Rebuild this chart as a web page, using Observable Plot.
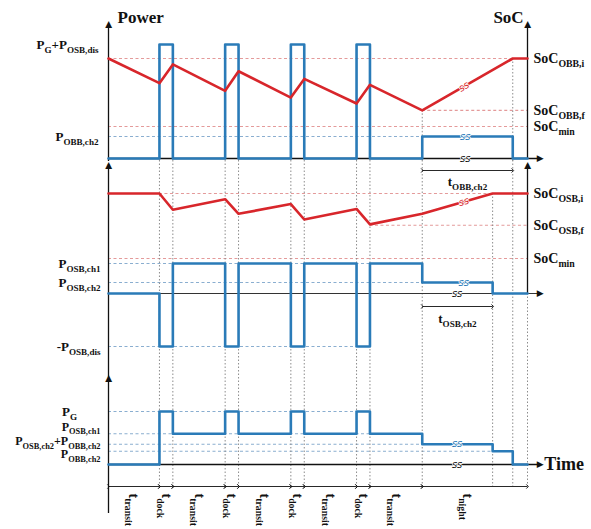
<!DOCTYPE html>
<html><head><meta charset="utf-8">
<script src="https://cdn.jsdelivr.net/npm/d3@7"></script>
<script src="https://cdn.jsdelivr.net/npm/@observablehq/plot@0.6"></script>
<style>
body{margin:0;background:#fff}
#chart{width:591px;height:529px;position:relative;overflow:hidden}
#chart svg{display:block}
</style>
</head><body><div id="chart"></div>
<script>
// ---------------- data ----------------
const phaseNames = ["transit","dock","transit","dock","transit","dock","transit","dock","transit","night"];
const phaseDurations = [3.8, 1.0, 3.9, 1.0, 3.9, 1.0, 3.9, 1.0, 3.9, 6.75];
const osbNightChargeDuration = 5.25;   // t_OSB,ch2
const tailDuration = 1.1;

// power levels (schematic units) for each panel
const obbPowerSteps  = [0, 11.4, 0, 11.4, 0, 11.4, 0, 11.4, 0, 2.2, 0];            // P_OBB
const osbPowerSteps  = [0, -5.3, 3.0, -5.3, 3.0, -5.3, 3.0, -5.3, 3.0, 1.1, 0];   // P_OSB
const gridPowerSteps = [0, 5.3, 3.07, 5.3, 3.07, 5.3, 3.07, 5.3, 3.07, 2.03, 1.33, 0]; // grid

const obbLabels  = [["P_{G}+P_{OSB,dis}", 11.4], ["P_{OBB,ch2}", 2.2]];
const osbLabels  = [["P_{OSB,ch1}", 3.0], ["P_{OSB,ch2}", 1.1], ["-P_{OSB,dis}", -5.3]];
const gridLabelNames  = ["P_{G}", "P_{OSB,ch1}", "P_{OSB,ch2}+P_{OBB,ch2}", "P_{OBB,ch2}"];
const gridLabelValues = [5.3, 3.07, 2.03, 1.33];

// SoC (%) levels and traces at event times
const socMin = 20;
const obbSocLevels = [["SoC_{OBB,i}", 100], ["SoC_{OBB,f}", 39], ["SoC_{min}", 20]];
const osbSocLevels = [["SoC_{OSB,i}", 100], ["SoC_{OSB,f}", 61], ["SoC_{min}", 20]];
const obbSoC = [100, 71, 93, 62, 85, 54, 76, 47, 69, 39, 100, 100];
const osbSoC = [100, 100, 80, 93, 75, 87, 68, 81, 62, 75, 100, 100];

// ---------------- derived timing ----------------
const phaseStarts = [];
{ let t = 0; for (const d of phaseDurations) { phaseStarts.push(+t.toFixed(3)); t += d; } }
const nightStart = phaseStarts[9];
const tOBBend = nightStart + phaseDurations[9];
const tOSBend = nightStart + osbNightChargeDuration;
const tEnd = tOBBend + tailDuration;
const dockEdges = phaseStarts.slice(1, 9);

const obbTimes  = [...phaseStarts, tOBBend, tEnd];
const osbTimes  = [...phaseStarts, tOSBend, tEnd];
const gridTimes = [...phaseStarts, tOSBend, tOBBend, tEnd];

const steps = (times, vals) => times.map((t, i) => ({t, v: vals[Math.min(i, vals.length - 1)]}));
const trace = (times, vals) => times.map((t, i) => ({t, v: vals[i]}));

// ---------------- styles ----------------
const BLUE = "#2a7bb8", RED = "#d8262b", RED_D = "#e49a9a", BLUE_D = "#8aaed0", DOT = "#8c8c8c", INK = "#111";
const FONT = "Liberation Serif";
const xEndAxis = tEnd + 0.95;

const socY1 = s => 3.2 + (s - socMin) * 0.085;     // SoC axis of panel 1 onto its power axis
const socY2 = s => 3.5 + (s - socMin) * 0.08125;   // SoC axis of panel 2 onto its power axis

const dashH = (y, x1, x2, color) => Plot.ruleY([y], {x1, x2, stroke: color, strokeWidth: 1.1, strokeDasharray: "3,2.5"});
const dotV = (xs, y1, y2) => Plot.ruleX(xs, {y1, y2, stroke: DOT, strokeWidth: 1, strokeDasharray: "1.5,2"});
const head = (x, y, rotate) => Plot.text([0], {x: () => x, y: () => y, text: () => "\u25B6", rotate, fontSize: 9, fill: INK, fontFamily: "DejaVu Sans"});
const lab = (data, opts) => Plot.text(data, {fontFamily: FONT, fontWeight: "bold", fill: INK, ...opts});
const ss = (x, y, color, rotate = 0) => Plot.text([0], {x: () => x, y: () => y, text: () => "ss", rotate, fontSize: 10, fontStyle: "italic", fontFamily: "DejaVu Sans", fill: color, stroke: "white", strokeWidth: 1.5});

function panel(height, yDomain, yRange, marks) {
  return Plot.plot({
    width: 591, height, marginLeft: 108, marginRight: 64, marginTop: 0, marginBottom: 0,
    x: {axis: null, domain: [0, tEnd], range: [108, 527]},
    y: {axis: null, domain: yDomain, range: yRange},
    style: {background: "transparent", overflow: "visible"},
    marks
  });
}

// ---------------- panel 1: OBB ----------------
const p1 = panel(160, [0, 11.4], [158, 44], [
  dashH(socY1(100), 0, tEnd, RED_D),
  dashH(socY1(39), nightStart, tEnd, RED_D),
  dashH(socY1(20), 0, tEnd, RED_D),
  dashH(2.2, 0, nightStart, BLUE_D),
  dotV(dockEdges, 0, -0.3),
  dotV([nightStart], socY1(39), -0.3),
  dotV([tOBBend], socY1(100), -0.3),
  Plot.ruleY([0], {x1: 0, x2: xEndAxis, stroke: INK, strokeWidth: 1.3}),
  head(xEndAxis, 0, 0),
  Plot.ruleX([0], {y1: -0.3, y2: 13.3, stroke: INK, strokeWidth: 1.3}),
  head(0, 13.4, -90),
  Plot.ruleX([tEnd], {y1: 0, y2: 13.3, stroke: INK, strokeWidth: 1.3}),
  head(tEnd, 13.4, -90),
  Plot.line(steps(obbTimes, obbPowerSteps), {x: "t", y: "v", curve: "step-after", stroke: BLUE, strokeWidth: 2.6}),
  Plot.line(trace(obbTimes, obbSoC), {x: "t", y: d => socY1(d.v), stroke: RED, strokeWidth: 2.6}),
  ss(26.5, socY1(67), RED, -30),
  ss(26.6, 2.2, BLUE),
  ss(26.6, 0, INK),
  lab(obbLabels, {x: () => 0, y: d => d[1], text: d => d[0], textAnchor: "end", dx: -10, fontSize: 13}),
  lab(obbSocLevels, {x: () => tEnd, y: d => socY1(d[1]), text: d => d[0], textAnchor: "start", dx: 6, fontSize: 14}),
  lab(["Power"], {x: () => 0, y: () => 14.1, text: d => d, textAnchor: "start", dx: 9, fontSize: 17}),
  lab(["SoC"], {x: () => tEnd, y: () => 14.1, text: d => d, textAnchor: "middle", dx: -19, fontSize: 17})
]);

// ---------------- panel 2: OSB ----------------
const p2 = panel(210, [-5.3, 3.0], [186, 103], [
  dashH(socY2(100), phaseStarts[1], tEnd, RED_D),
  dashH(socY2(61), phaseStarts[8], tEnd, RED_D),
  dashH(socY2(20), 0, tEnd, RED_D),
  dashH(3.0, 0, nightStart, BLUE_D),
  dashH(1.1, 0, nightStart, BLUE_D),
  dashH(-5.3, 0, phaseStarts[8], BLUE_D),
  dotV([...dockEdges, nightStart, tOBBend], 13.3, -7.7),
  dotV([tOSBend], socY2(100), -7.7),
  dotV([tEnd], 0, -7.7),
  Plot.ruleY([0], {x1: 0, x2: xEndAxis, stroke: "#333", strokeWidth: 1}),
  head(xEndAxis, 0, 0),
  Plot.ruleX([0], {y1: -7.7, y2: 12.9, stroke: INK, strokeWidth: 1.3}),
  head(0, 12.8, -90),
  Plot.ruleX([tEnd], {y1: 0, y2: 12.9, stroke: INK, strokeWidth: 1.3}),
  head(tEnd, 12.8, -90),
  Plot.link([0], {x1: () => nightStart, x2: () => tOBBend, y1: () => 12.3, y2: () => 12.3, stroke: INK, strokeWidth: 0.9, markerStart: "arrow", markerEnd: "arrow"}),
  Plot.link([0], {x1: () => nightStart, x2: () => tOSBend, y1: () => -1.3, y2: () => -1.3, stroke: INK, strokeWidth: 0.9, markerStart: "arrow", markerEnd: "arrow"}),
  lab(["t_{OBB,ch2}"], {x: () => (nightStart + tOBBend) / 2, y: () => 11.2, text: d => d, fontSize: 13}),
  lab(["t_{OSB,ch2}"], {x: () => (nightStart + tOSBend) / 2, y: () => -2.5, text: d => d, fontSize: 13}),
  Plot.line(steps(osbTimes, osbPowerSteps), {x: "t", y: "v", curve: "step-after", stroke: BLUE, strokeWidth: 2.6}),
  Plot.line(trace(osbTimes, osbSoC), {x: "t", y: d => socY2(d.v), stroke: RED, strokeWidth: 2.6}),
  ss(26.5, socY2(90), RED, -17),
  ss(26.5, 1.1, BLUE),
  ss(26.0, 0, INK),
  lab(osbLabels, {x: () => 0, y: d => d[1], text: d => d[0], textAnchor: "end", dx: -8, fontSize: 13}),
  lab(osbSocLevels, {x: () => tEnd, y: d => socY2(d[1]), text: d => d[0], textAnchor: "start", dx: 6, fontSize: 14})
]);

// ---------------- panel 3: grid ----------------
const boundaries = [...phaseStarts, tEnd];
const segs = boundaries.slice(0, -1).map((t, i) => ({a: t, b: boundaries[i + 1], name: phaseNames[i]}));
const segLabelMid = s => s.name === "night" ? (s.a + tOBBend) / 2 : (s.a + s.b) / 2;
const gridNudge = [0, -7, -3, 3];
const p3 = panel(159, [0, 5.3], [94, 41], [
  dashH(5.3, 0, phaseStarts[8], BLUE_D),
  dashH(3.07, 0, nightStart, BLUE_D),
  dashH(2.03, 0, nightStart, BLUE_D),
  dashH(1.33, 0, tOSBend, BLUE_D),
  dotV([...dockEdges, nightStart, tOSBend, tOBBend, tEnd], 9.4, -2.2),
  Plot.ruleY([0], {x1: 0, x2: xEndAxis, stroke: INK, strokeWidth: 1.3}),
  head(xEndAxis, 0, 0),
  Plot.ruleX([0], {y1: -4.9, y2: 9.4, stroke: INK, strokeWidth: 1.3}),
  head(0, 8.6, -90),
  Plot.link(segs, {x1: "a", x2: "b", y1: () => -2.2, y2: () => -2.2, stroke: INK, strokeWidth: 0.9, markerStart: "arrow", markerEnd: "arrow"}),
  lab(segs, {x: segLabelMid, y: () => -2.9, text: d => "t_{" + d.name + "}", rotate: 90, textAnchor: "start", fontSize: 14}),
  Plot.line(steps(gridTimes, gridPowerSteps), {x: "t", y: "v", curve: "step-after", stroke: BLUE, strokeWidth: 2.6}),
  ss(26.0, 2.03, BLUE),
  ss(26.0, 0, INK),
  lab([0], {x: () => 0, y: () => gridLabelValues[0], text: () => gridLabelNames[0], textAnchor: "middle", dx: -39, fontSize: 13}),
  lab([1, 2, 3], {x: () => 0, y: i => gridLabelValues[i], text: i => gridLabelNames[i], textAnchor: "end", dx: -8, fontSize: 12}),
  lab(["Time"], {x: () => xEndAxis, y: () => 0, text: d => d, textAnchor: "start", dx: 4, fontSize: 18})
]);

const chart = document.getElementById("chart");
for (const p of [p1, p2, p3]) chart.appendChild(p);

// small vertical nudges for the stacked grid labels (they share a crowded band)
{
  const texts = [...p3.querySelectorAll("text")];
  gridLabelNames.forEach((name, i) => {
    if (!gridNudge[i]) return;
    const t = texts.find(el => el.textContent === name && !el.dataset.nudged);
    if (!t) return;
    t.dataset.nudged = "1";
    t.setAttribute("transform", (t.getAttribute("transform") || "") + ` translate(0,${gridNudge[i]})`);
  });
}

// subscripts: turn "_{...}" into real subscript tspans
const NS = "http://www.w3.org/2000/svg";
for (const t of chart.querySelectorAll("text")) {
  const s = t.textContent;
  if (!s.includes("_{")) continue;
  const fs = parseFloat(getComputedStyle(t).fontSize) || 13;
  const drop = (0.3 * fs).toFixed(2);
  while (t.firstChild) t.removeChild(t.firstChild);
  let inSub = false;
  for (const part of s.split(/(_\{[^}]*\})/)) {
    if (!part) continue;
    const ts = document.createElementNS(NS, "tspan");
    if (part.startsWith("_{")) {
      ts.textContent = part.slice(2, -1);
      ts.setAttribute("font-size", (0.7 * fs).toFixed(2));
      ts.setAttribute("dy", drop);
      inSub = true;
    } else {
      ts.textContent = part;
      if (inSub) { ts.setAttribute("dy", "-" + drop); inSub = false; }
    }
    t.appendChild(ts);
  }
}
</script>
</body></html>
